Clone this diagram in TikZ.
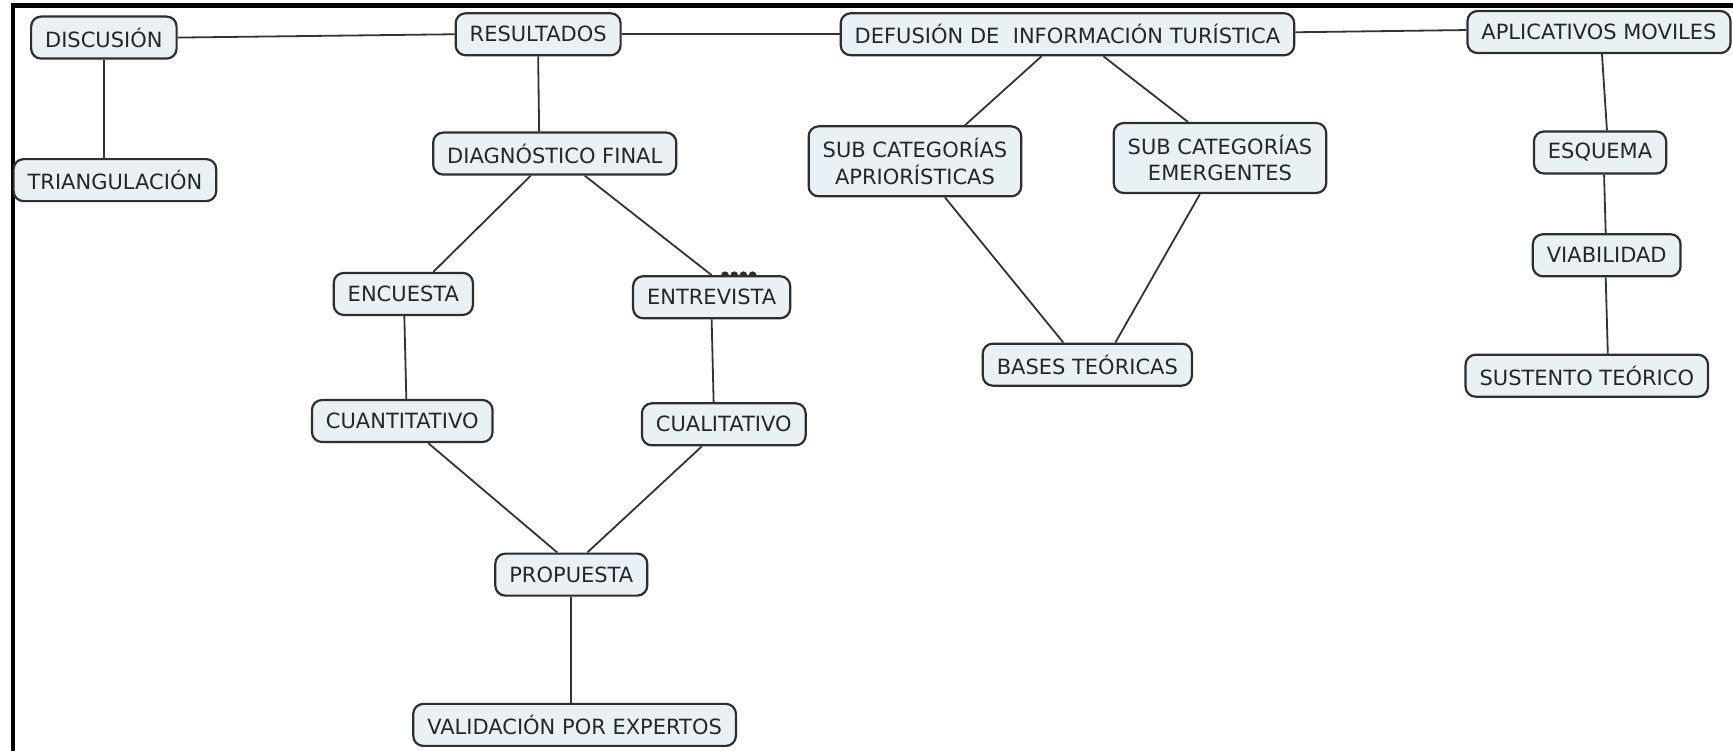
\documentclass[tikz,border=0pt]{standalone}
\usepackage{fontspec}
\setmainfont{DejaVu Sans}
\usetikzlibrary{positioning}

\definecolor{cajafondo}{HTML}{EAF1F4}
\definecolor{cajaborde}{HTML}{2E2E2E}
\definecolor{linea}{HTML}{333333}

\begin{document}
\begin{tikzpicture}[x=0.5525pt,y=-0.5525pt,
  caja/.style={draw=cajaborde,fill=cajafondo,line width=1.1pt,rounded corners=5pt,
    align=center,font=\fontsize{10.5}{13.3}\selectfont,text=black!85,
    inner xsep=7pt,minimum height=21pt},
  doble/.style={caja,minimum height=35pt},
  enlace/.style={draw=linea,line width=0.9pt}]

\useasboundingbox (0,0) rectangle (1568.3,679.6);
\fill[white] (0,0) rectangle (1568.3,679.6);

\draw[line width=2.2pt] (12,679.6)--(12,5)--(1568.3,5);

\node[caja] (disc) at (94,34) {DISCUSIÓN};
\node[caja] (trian) at (104,163) {TRIANGULACIÓN};
\node[caja] (res) at (487,31) {RESULTADOS};
\node[caja] (diag) at (502,139) {DIAGNÓSTICO FINAL};
\node[caja] (enc) at (365,266) {ENCUESTA};
\node[caja] (ent) at (644,269) {ENTREVISTA};
\node[caja] (cuant) at (364,381) {CUANTITATIVO};
\node[caja] (cual) at (655,384) {CUALITATIVO};
\node[caja] (prop) at (517,520) {PROPUESTA};
\node[caja] (valid) at (520,656) {VALIDACIÓN POR EXPERTOS};
\node[caja] (def) at (966,31) {DEFUSIÓN DE\ \ INFORMACIÓN TURÍSTICA};
\node[doble] (apri) at (828,146) {SUB CATEGORÍAS\\APRIORÍSTICAS};
\node[doble] (emer) at (1104,143) {SUB CATEGORÍAS\\EMERGENTES};
\node[caja] (bases) at (984,330) {BASES TEÓRICAS};
\node[caja] (apli) at (1447,29) {APLICATIVOS MOVILES};
\node[caja] (esq) at (1448,138) {ESQUEMA};
\node[caja] (viab) at (1454,231) {VIABILIDAD};
\node[caja] (sust) at (1436,340) {SUSTENTO TEÓRICO};

% enlaces de la fila superior
\draw[enlace] (disc.east) -- (res.west);
\draw[enlace] (res.east) -- (def.west);
\draw[enlace] ([yshift=1pt]def.east) -- ([yshift=1pt]apli.west);
\draw[enlace] (disc.south) -- (disc.south |- trian.north);

% resultados
\draw[enlace] (res.south) -- ([xshift=0.5pt]res.south |- diag.north);
\draw[enlace] ([xshift=-12pt]diag.south) -- ([xshift=15pt]enc.north);
\draw[enlace] ([xshift=15pt]diag.south) -- ([xshift=0pt]ent.north);
\draw[enlace] ([xshift=0.5pt]enc.south) -- ([xshift=1.5pt]enc.south |- cuant.north);
\draw[enlace] (ent.south) -- ([xshift=1pt]ent.south |- cual.north);
\draw[enlace] ([xshift=13pt]cuant.south) -- ([xshift=-7pt]prop.north);
\draw[enlace] ([xshift=-11pt]cual.south) -- ([xshift=8pt]prop.north);
\draw[enlace] (prop.south) -- (prop.south |- valid.north);

% puntos sobre entrevista
\foreach \k in {0,...,3}
  \fill[cajaborde] ([xshift=4.8pt+\k*4.6pt]ent.north) arc[start angle=180,end angle=0,radius=1.9pt];

% defusion
\draw[enlace] ([xshift=-13pt]def.south) -- ([xshift=25pt]apri.north);
\draw[enlace] ([xshift=18pt]def.south) -- ([xshift=-16pt]emer.north);
\draw[enlace] ([xshift=15pt]apri.south) -- ([xshift=-12pt]bases.north);
\draw[enlace] ([xshift=-10pt]emer.south) -- ([xshift=14pt]bases.north);

% aplicativos
\draw[enlace] ([xshift=1.5pt]apli.south) -- ([xshift=4pt]apli.south |- esq.north);
\draw[enlace] ([xshift=2pt]esq.south) -- ([xshift=-0.5pt]viab.north);
\draw[enlace] ([xshift=-0.5pt]viab.south) -- ([xshift=10.5pt]sust.north);

\end{tikzpicture}
\end{document}
